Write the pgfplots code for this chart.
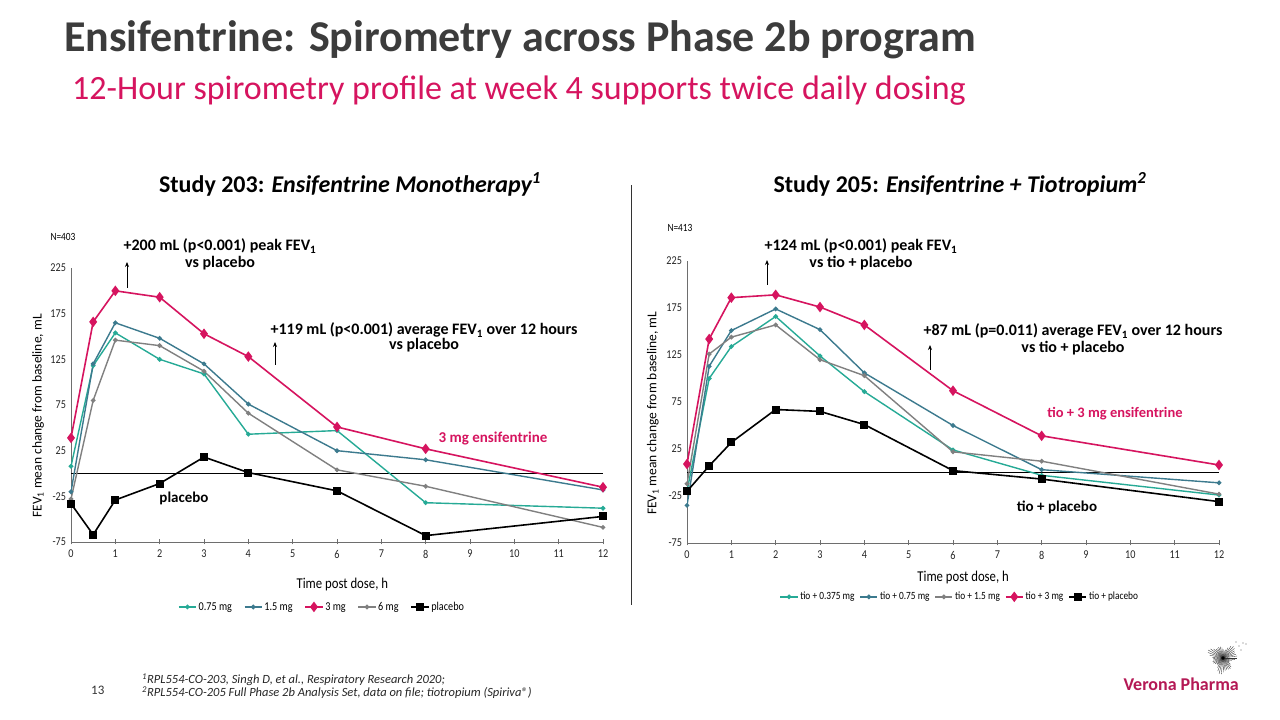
\documentclass[border=0pt]{standalone}
\usepackage{pgfplots}
\pgfplotsset{compat=1.18}
\usepackage{pgfplotstable}
\usetikzlibrary{arrows.meta}
\usepackage{fontspec}
\setmainfont{Carlito}
\newfontfamily\cond[FakeStretch=0.85]{Carlito}
\definecolor{pinkc}{RGB}{214,20,95}
\definecolor{tealc}{RGB}{38,170,150}
\definecolor{dtealc}{RGB}{60,122,142}
\definecolor{grayc}{RGB}{128,128,128}
\definecolor{titlec}{RGB}{60,60,60}
\definecolor{logoc}{RGB}{180,25,85}
\definecolor{axc}{RGB}{110,110,110}

\pgfplotstableread{
x    a     b     c     d     p
0    8    -20    39   -28   -33
0.5  118   120   166   80   -67
1    154   165   200   146  -29
2    125   148   193   140  -11
3    109   120   153   112   18
4    43    76    128   66    1
6    47    25    51    4    -19
8    -32   15    27   -14   -68
12   -38   -18   -15  -59   -47
}\lefttab

\pgfplotstableread{
x    a     b     c     d     p
0    -20   -35   9    -12   -20
0.5  100   113   142  126    7
1    134   151   186  144    32
2    166   174   189  157    67
3    124   152   176  120    65
4    86    106   157  103    51
6    24    50    87   22     2
8    -3    3     39   12    -7
12   -24   -11   8    -23   -31
}\righttab

\pgfplotsset{
  mystyle/.style={
    scale only axis, width=532pt,
    xmin=0, xmax=12, ymin=-75, ymax=225,
    xtick={0,1,...,12}, ytick={-75,-25,25,75,125,175,225},
    axis x line*=bottom, axis y line*=left,
    axis line style={axc, line width=0.8pt},
    x axis line style={-}, y axis line style={-},
    xtick style={axc, line width=0.6pt},
    major tick length=5pt,
    ytick style={draw=none},
    tick align=center,
    /pgf/number format/assume math mode=true,
    tick label style={font=\cond\fontsize{12}{14}\selectfont, text=black!85},
    xticklabel style={yshift=-2pt},
    yticklabel style={xshift=1pt},
    label style={font=\fontsize{13.5}{15}\selectfont},
    legend style={draw=none, fill=none, font=\cond\fontsize{12}{14}\selectfont,
      legend columns=5, /tikz/every even column/.append style={column sep=10pt},
      anchor=center},
    legend cell align=left,
  },
  sa/.style={tealc, line width=1.4pt, mark=*, mark size=1.6pt},
  sb/.style={dtealc, line width=1.4pt, mark=*, mark size=1.6pt},
  sc/.style={pinkc, line width=1.6pt, mark=diamond*, mark size=4pt},
  sd/.style={grayc, line width=1.4pt, mark=*, mark size=1.6pt},
  sp/.style={black, line width=1.6pt, mark=square*, mark size=3.2pt},
}

\begin{document}
\begin{tikzpicture}[x=1pt,y=1pt]
\useasboundingbox (0,0) rectangle (1280,720);
\fill[white] (0,0) rectangle (1280,720);

% Titles
\node[anchor=base west, inner sep=0, text=titlec, font=\fontsize{44}{48}\selectfont\bfseries] at (64,668) {Ensifentrine: Spirometry across Phase 2b program};
\node[anchor=base west, inner sep=0, text=pinkc, font=\fontsize{34}{38}\selectfont] at (72,620) {12-Hour spirometry profile at week 4 supports twice daily dosing};

% Section headers
\node[anchor=base, inner sep=0, font=\fontsize{24}{28}\selectfont\bfseries] at (350,527) {Study 203: \textit{Ensifentrine Monotherapy\textsuperscript{1}}};
\node[anchor=base, inner sep=0, font=\fontsize{24}{28}\selectfont\bfseries] at (960,527) {Study 205: \textit{Ensifentrine + Tiotropium\textsuperscript{2}}};

% divider
\draw[black!80, line width=0.8pt] (631,115) -- (631,535);

% LEFT AXIS
\begin{axis}[mystyle, at={(71pt,178pt)}, anchor=south west, height=274pt,
  xlabel={Time post dose, h},
  xlabel style={at={(axis description cs:0.51,0)}, anchor=center, yshift=-43pt, font=\cond\fontsize{15}{17}\selectfont},
  ylabel={FEV\textsubscript{1} mean change from baseline, mL},
  ylabel style={at={(axis description cs:-0.062,0.46)}, anchor=center},
  legend style={at={(axis description cs:0.472,-0.237)}},
]
\addplot[black, line width=0.8pt, forget plot] coordinates {(0,0) (12,0)};
\addplot[sa] table[x=x,y=a] {\lefttab};
\addplot[sb] table[x=x,y=b] {\lefttab};
\addplot[sc] table[x=x,y=c] {\lefttab};
\addplot[sd] table[x=x,y=d] {\lefttab};
\addplot[sp] table[x=x,y=p] {\lefttab};
\legend{0.75 mg, 1.5 mg, 3 mg, 6 mg, placebo}
\end{axis}

% RIGHT AXIS
\begin{axis}[mystyle, at={(687pt,177pt)}, anchor=south west, height=282pt,
  xlabel={Time post dose, h},
  xlabel style={at={(axis description cs:0.519,0)}, anchor=center, yshift=-35pt, font=\cond\fontsize{15}{17}\selectfont},
  ylabel={FEV\textsubscript{1} mean change from baseline, mL},
  ylabel style={at={(axis description cs:-0.064,0.46)}, anchor=center},
  legend style={at={(axis description cs:0.513,-0.191)}, font=\cond\fontsize{11}{13}\selectfont, /tikz/every even column/.append style={column sep=3pt}},
]
\addplot[black, line width=0.8pt, forget plot] coordinates {(0,0) (12,0)};
\addplot[sa] table[x=x,y=a] {\righttab};
\addplot[sb] table[x=x,y=b] {\righttab};
\addplot[sd] table[x=x,y=d] {\righttab};
\addplot[sc] table[x=x,y=c] {\righttab};
\addplot[sp] table[x=x,y=p] {\righttab};
\legend{tio + 0.375 mg, tio + 0.75 mg, tio + 1.5 mg, tio + 3 mg, tio + placebo}
\end{axis}

% N labels
\node[anchor=base, inner sep=0, font=\cond\fontsize{11}{13}\selectfont] at (63,479) {N=403};
\node[anchor=base, inner sep=0, font=\cond\fontsize{11}{13}\selectfont] at (680,488) {N=413};

% Left annotations
\node[anchor=base, inner sep=0, font=\fontsize{16}{19}\selectfont\bfseries] at (220,469) {+200 mL (p<0.001) peak FEV\textsubscript{1}};
\node[anchor=base, inner sep=0, font=\fontsize{16}{19}\selectfont\bfseries] at (220,452) {vs placebo};
\draw[-{Stealth[length=5pt,width=4pt]}, line width=1pt] (127,432) -- (127,458);
\node[anchor=base, inner sep=0, font=\fontsize{16}{19}\selectfont\bfseries] at (424,385) {+119 mL (p<0.001) average FEV\textsubscript{1} over 12 hours};
\node[anchor=base, inner sep=0, font=\fontsize{16}{19}\selectfont\bfseries] at (424,370) {vs placebo};
\draw[-{Stealth[length=5pt,width=4pt]}, line width=1pt] (275,355) -- (275,378);
\node[anchor=base, inner sep=0, text=pinkc, font=\fontsize{15}{17}\selectfont\bfseries] at (493,277) {3 mg ensifentrine};
\node[anchor=base, inner sep=0, font=\fontsize{15}{18}\selectfont\bfseries] at (184,217) {placebo};

% Right annotations
\node[anchor=base, inner sep=0, font=\fontsize{16}{19}\selectfont\bfseries] at (861,469) {+124 mL (p<0.001) peak FEV\textsubscript{1}};
\node[anchor=base, inner sep=0, font=\fontsize{16}{19}\selectfont\bfseries] at (861,452) {vs tio + placebo};
\draw[-{Stealth[length=5pt,width=4pt]}, line width=1pt] (767,435) -- (767,460);
\node[anchor=base, inner sep=0, font=\fontsize{16}{19}\selectfont\bfseries] at (1073,384) {+87 mL (p=0.011) average FEV\textsubscript{1} over 12 hours};
\node[anchor=base, inner sep=0, font=\fontsize{16}{19}\selectfont\bfseries] at (1073,367) {vs tio + placebo};
\draw[-{Stealth[length=5pt,width=4pt]}, line width=1pt] (930,350) -- (930,375);
\node[anchor=base, inner sep=0, text=pinkc, font=\fontsize{14.5}{16}\selectfont\bfseries] at (1115,302) {tio + 3 mg ensifentrine};
\node[anchor=base, inner sep=0, font=\fontsize{15}{18}\selectfont\bfseries] at (1057,208) {tio + placebo};

% Footer
\node[anchor=base west, inner sep=0, font=\fontsize{13}{15}\selectfont, text=black!80] at (91,25) {13};
\node[anchor=base west, inner sep=0, font=\fontsize{12.5}{14}\selectfont\itshape, text=black!85] at (142,36) {\textsuperscript{1}RPL554-CO-203, Singh D, et al., Respiratory Research 2020;};
\node[anchor=base west, inner sep=0, font=\fontsize{12.5}{14}\selectfont\itshape, text=black!85] at (142,23) {\textsuperscript{2}RPL554-CO-205 Full Phase 2b Analysis Set, data on file; tiotropium (Spiriva®)};

% Logo
\node[anchor=base east, inner sep=0, text=logoc, font=\fontsize{18}{20}\selectfont\bfseries] at (1239,29) {Verona Pharma};
\foreach \a in {0,8,...,352} {
  \pgfmathsetmacro{\r}{12+3*sin(3*\a)+2*cos(7*\a)}
  \draw[black!80, line width=0.35pt] (1223,62) -- ++(\a:\r);
}
\fill[black] (1223,62) circle (1.8);
\foreach \p in {(1239,74),(1243,77),(1246,76),(1241,70),(1236,78)} \fill[black!60] \p circle (0.7);
\end{tikzpicture}
\end{document}
